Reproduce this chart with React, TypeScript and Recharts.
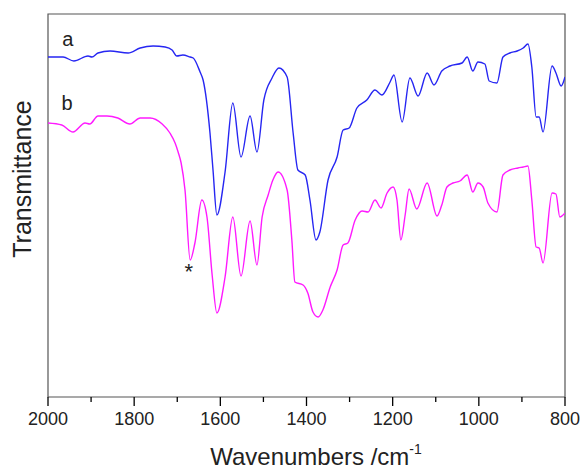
import React from "react";
import { LineChart, Line, XAxis, YAxis, ReferenceDot, ReferenceArea } from "recharts";

// spectrum a (blue): wavenumber / transmittance (a.u.)
const WAVE_A = [
  2000, 1965, 1940, 1907, 1898, 1884, 1856, 1814, 1786, 1756, 1728, 1712, 1701, 1687,
  1670, 1663, 1647, 1640, 1624, 1617, 1608, 1589, 1571, 1552, 1531, 1515, 1499, 1480,
  1464, 1445, 1431, 1420, 1403, 1392, 1378, 1369, 1350, 1329, 1315, 1301, 1283, 1260,
  1241, 1225, 1206, 1197, 1178, 1160, 1141, 1120, 1104, 1086, 1067, 1039, 1027, 1014,
  1002, 986, 976, 958, 944, 928, 911, 897, 886, 877, 867, 860, 851, 830, 821, 809, 800,
];
const TRANS_A = [
  340, 340, 336, 341, 340, 344, 346, 344, 349, 351, 350, 347, 341, 342,
  340, 339, 325, 317, 264, 227, 182, 225, 294, 240, 281, 245, 297, 319,
  329, 320, 264, 227, 222, 197, 157, 165, 217, 240, 267, 269, 289, 297,
  307, 302, 315, 322, 275, 319, 301, 324, 312, 326, 331, 334, 340, 326,
  335, 333, 316, 314, 340, 344, 346, 349, 353, 330, 280, 280, 265, 331, 324, 311, 320,
];

// spectrum b (magenta)
const WAVE_B = [
  2000, 1968, 1942, 1914, 1903, 1884, 1863, 1838, 1810, 1786, 1763, 1735, 1717, 1705,
  1698, 1691, 1682, 1670, 1659, 1643, 1631, 1619, 1608, 1589, 1571, 1552, 1531, 1515,
  1503, 1489, 1478, 1466, 1445, 1434, 1427, 1408, 1397, 1385, 1373, 1362, 1345, 1329,
  1315, 1304, 1287, 1271, 1257, 1241, 1227, 1213, 1199, 1190, 1181, 1171, 1162, 1144,
  1120, 1097, 1086, 1074, 1060, 1044, 1027, 1014, 1002, 990, 979, 958, 944, 928, 909,
  897, 886, 877, 867, 860, 851, 830, 821, 812, 800,
];
const TRANS_B = [
  274, 272, 265, 274, 273, 281, 281, 279, 273, 279, 279, 273, 264, 254,
  245, 234, 207, 137, 154, 197, 180, 122, 84, 120, 180, 121, 176, 132,
  180, 202, 217, 225, 207, 157, 115, 112, 104, 85, 80, 87, 110, 127,
  152, 154, 177, 186, 185, 197, 189, 204, 210, 197, 157, 182, 208, 188,
  214, 181, 192, 210, 214, 216, 222, 205, 214, 210, 194, 185, 222, 227, 229,
  230, 231, 197, 150, 149, 134, 204, 203, 180, 184,
];

const X_TICKS = [2000, 1900, 1800, 1700, 1600, 1500, 1400, 1300, 1200, 1100, 1000, 900, 800];

const dataA = WAVE_A.map((w, i) => ({ w, t: TRANS_A[i] }));
const dataB = WAVE_B.map((w, i) => ({ w, t: TRANS_B[i] }));

const FONT = "'Liberation Sans', Arial, sans-serif";

function WaveTick({ x, y, payload }: any) {
  const major = payload.value % 200 === 0;
  return (
    <g>
      <line x1={x} x2={x} y1={y} y2={y + (major ? 9 : 5)} stroke="#000" strokeWidth={1.3} />
      {major && (
        <text x={x} y={y + 28} textAnchor="middle" fontSize={18} fill="#222" fontFamily={FONT}>
          {payload.value}
        </text>
      )}
    </g>
  );
}

function XLabel() {
  return (
    <g>
      <text x={316} y={465} textAnchor="middle" fontSize={24} fill="#222" fontFamily={FONT}>
        Wavenumbers /cm
        <tspan fontSize={14} dy={-11}>-1</tspan>
      </text>
      <text
        x={0}
        y={0}
        transform="translate(31, 179) rotate(-90)"
        textAnchor="middle"
        fontSize={25}
        fill="#222"
        fontFamily={FONT}
      >
        Transmittance
      </text>
    </g>
  );
}

function textMark(label: string, size: number) {
  return (p: any) => (
    <text x={p.cx} y={p.cy} textAnchor="middle" fontSize={size} fill="#222" fontFamily={FONT}>
      {label}
    </text>
  );
}

export default function App() {
  return (
    <div style={{ position: "absolute", left: 0, top: 0, background: "#fff" }}>
      <LineChart
        width={583}
        height={469}
        margin={{ top: 14, right: 18, left: 48, bottom: 0 }}
      >
        <XAxis
          dataKey="w"
          type="number"
          domain={[800, 2000]}
          reversed
          allowDataOverflow
          ticks={X_TICKS}
          interval={0}
          height={72}
          tickSize={0}
          tickMargin={0}
          tickLine={false}
          tick={<WaveTick />}
          axisLine={false}
          label={{ content: <XLabel /> }}
        />
        <YAxis type="number" domain={[0, 383]} hide />
        <ReferenceArea
          x1={2000}
          x2={800}
          y1={0}
          y2={383}
          fill="none"
          stroke="#555"
          strokeWidth={1.2}
        />
        <Line
          data={dataA}
          dataKey="t"
          type="monotone"
          stroke="#2626f2"
          strokeWidth={1.4}
          dot={false}
          isAnimationActive={false}
        />
        <Line
          data={dataB}
          dataKey="t"
          type="monotone"
          stroke="#ff1aff"
          strokeWidth={1.4}
          dot={false}
          isAnimationActive={false}
        />
        <ReferenceArea x1={2000} x2={2000} y1={0} y2={383} stroke="#000" strokeWidth={1.6} fill="none" />
        <ReferenceArea x1={2000} x2={800} y1={0} y2={0} stroke="#000" strokeWidth={1.6} fill="none" />
        <ReferenceDot x={1954} y={351} r={0} shape={textMark("a", 20)} />
        <ReferenceDot x={1956} y={287} r={0} shape={textMark("b", 20)} />
        <ReferenceDot x={1673} y={118} r={0} shape={textMark("*", 22)} />
      </LineChart>
    </div>
  );
}
